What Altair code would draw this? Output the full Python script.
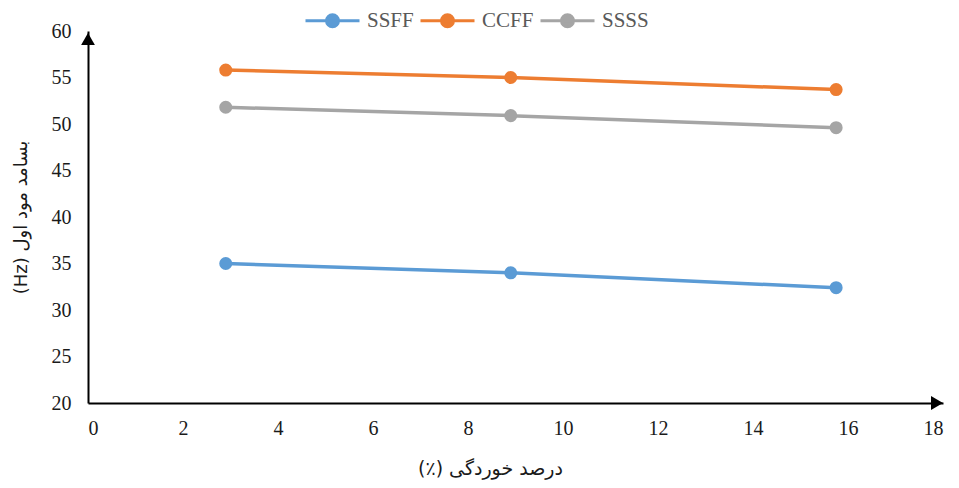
import altair as alt
import pandas as pd

# Corrosion percentage and first-mode frequency for each boundary condition
corrosion = [2.9, 8.9, 15.75]
ssff = [35.0, 34.0, 32.4]
ccff = [55.8, 55.0, 53.7]
ssss = [51.8, 50.9, 49.6]
series_names = ["SSFF", "CCFF", "SSSS"]
series_colors = ["#5B9BD5", "#ED7D31", "#A5A5A5"]

rows = []
for name, vals in zip(series_names, [ssff, ccff, ssss]):
    for x, y in zip(corrosion, vals):
        rows.append({"corrosion": x, "freq": y, "series": name})
df = pd.DataFrame(rows)

SERIF = "Liberation Serif"
ARABIC = "DejaVu Sans"
W, H = 855, 372

# Right-to-left embedding so the Persian titles lay out as a RTL paragraph
RLE, PDF = "\u202B", "\u202C"
x_title = RLE + "درصد خوردگی (٪)" + PDF
y_title = RLE + "بسامد مود اول (Hz)" + PDF

x_enc = alt.X(
    "corrosion:Q",
    scale=alt.Scale(domain=[0, 18], nice=False),
    axis=alt.Axis(
        title=x_title,
        values=list(range(0, 19, 2)),
        grid=False, ticks=False, domainColor="black", domainWidth=2,
        labelFont=SERIF, labelFontSize=20, labelColor="#1a1a1a", labelPadding=15,
        titleFont=ARABIC, titleFontSize=19, titleFontWeight="normal",
        titleColor="#1a1a1a", titlePadding=21, titleX=402,
    ),
)
y_enc = alt.Y(
    "freq:Q",
    scale=alt.Scale(domain=[20, 60], nice=False),
    axis=alt.Axis(
        title=y_title,
        values=list(range(20, 61, 5)),
        grid=False, ticks=False, domainColor="black", domainWidth=2,
        labelFont=SERIF, labelFontSize=20, labelColor="#1a1a1a", labelPadding=17,
        titleFont=ARABIC, titleFontSize=18, titleFontWeight="normal",
        titleColor="#1a1a1a", titlePadding=21,
    ),
)
color_enc = alt.Color(
    "series:N",
    scale=alt.Scale(domain=series_names, range=series_colors),
    sort=series_names,
    legend=alt.Legend(
        title=None, orient="none", direction="horizontal",
        legendX=234, legendY=-21, padding=0,
        symbolType="M-4.5,0L4.5,0M-1,0A1,1 0 1,1 1,0A1,1 0 1,1 -1,0Z",
        symbolSize=144, symbolStrokeWidth=3, symbolOpacity=1,
        labelFont=SERIF, labelFontSize=21, labelColor="#595959",
        labelOffset=24, columnPadding=0,
    ),
)

base = alt.Chart(df).encode(x=x_enc, y=y_enc, color=color_enc)
lines = base.mark_line(strokeWidth=3.5)
points = base.mark_point(filled=True, size=170, opacity=1, shape="circle")

# Arrowheads at the ends of both axis lines
arrow_df = pd.DataFrame({"a": [0]})
y_arrow = alt.Chart(arrow_df).mark_point(
    shape="triangle-up", filled=True, color="black", opacity=1, size=190, clip=False
).encode(x=alt.value(0), y=alt.value(8))
x_arrow = alt.Chart(arrow_df).mark_point(
    shape="triangle-right", filled=True, color="black", opacity=1, size=190, clip=False
).encode(x=alt.value(W - 6), y=alt.value(H))

chart = (
    alt.layer(lines, points, y_arrow, x_arrow)
    .properties(width=W, height=H, background="white",
                autosize=alt.AutoSizeParams(type="none"),
                padding={"left": 88, "top": 31, "right": 16, "bottom": 85})
    .configure_view(strokeWidth=0)
)

chart.save("out.html", embed_options={"renderer": "svg", "actions": False})
